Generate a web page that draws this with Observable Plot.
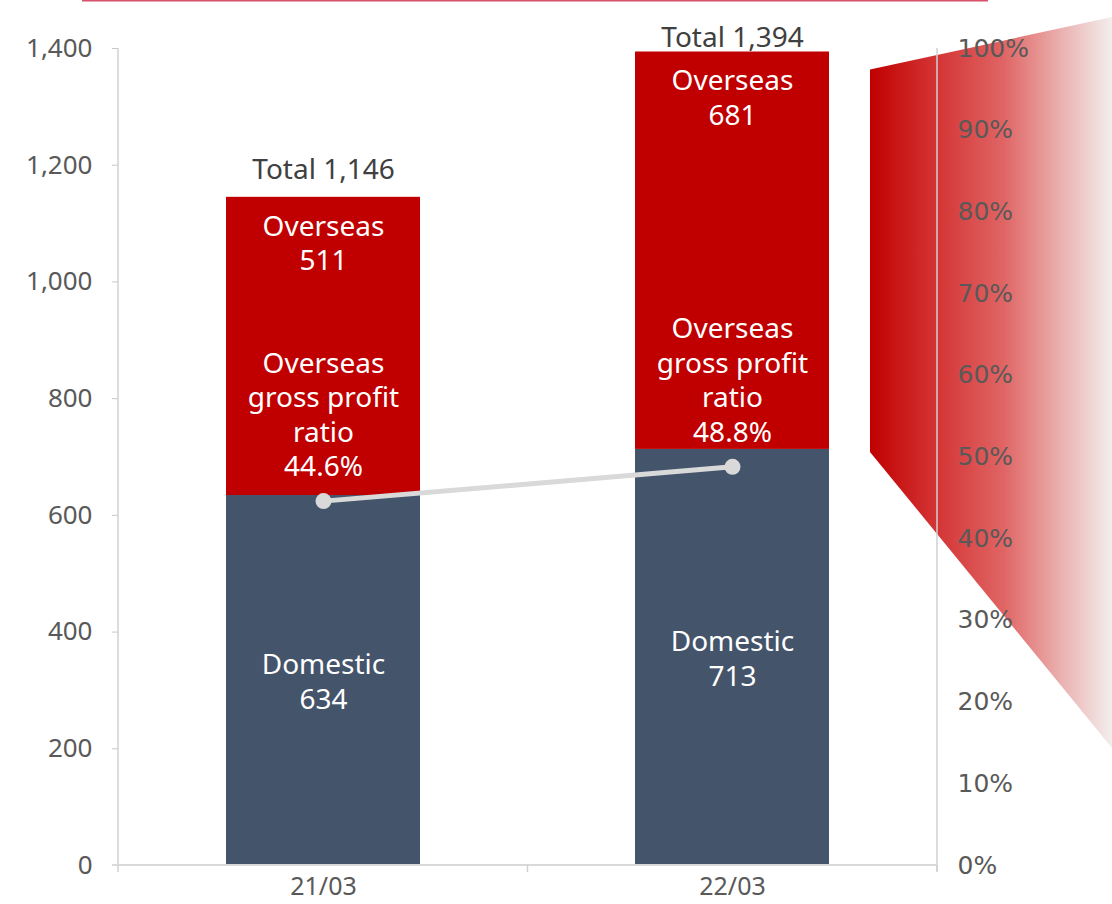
<!DOCTYPE html>
<html>
<head>
<meta charset="utf-8">
<script src="https://cdn.jsdelivr.net/npm/d3@7"></script>
<script src="https://cdn.jsdelivr.net/npm/@observablehq/plot@0.6"></script>
<style>
  html, body { margin: 0; padding: 0; background: #fff; }
  #chart { width: 1112px; height: 904px; }
</style>
</head>
<body>
<div id="chart"></div>
<script>
const periods = ["21/03", "22/03"];
const domestic = [634, 713];
const overseas = [511, 681];
const totals = [1146, 1394];
const ratios = [44.6, 48.8];
const yTicks = [0, 200, 400, 600, 800, 1000, 1200, 1400];
const pctTicks = [0, 10, 20, 30, 40, 50, 60, 70, 80, 90, 100];

const RED = "#c00000";
const NAVY = "#44546a";
const GRAY = "#595959";
const FONT = "'Noto Sans', 'Open Sans', sans-serif";

// percent mapped onto the value scale: 100% <-> 1400
const pctToY = p => p / 100 * 1400;

const rows = periods.map((p, i) => ({
  period: p, domestic: domestic[i], overseas: overseas[i],
  total: totals[i], ratio: ratios[i], idx: i
}));

const plot = Plot.plot({
  width: 1112,
  height: 904,
  marginLeft: 118,
  marginRight: 175,
  marginTop: 48,
  marginBottom: 39,
  style: { fontFamily: FONT, background: "transparent", overflow: "visible" },
  x: { domain: periods, paddingInner: 0.526, paddingOuter: 0.263, label: null },
  y: { domain: [0, 1400], label: null },
  marks: [
    Plot.axisY({ ticks: yTicks, tickFormat: d3.format(","), tickSize: 6, tickPadding: 20,
      fontSize: 26, fill: GRAY, stroke: "#c8c8c8", label: null }),
    Plot.axisY({ anchor: "right", ticks: pctTicks.map(pctToY), tickFormat: d => Math.round(d / 14) + "%",
      tickSize: 0, tickPadding: 20, fontSize: 25, fill: GRAY, label: null,
      fontFamily: "'DejaVu Sans', Verdana, sans-serif" }),
    Plot.axisX({ tickSize: 0, tickPadding: 12, fontSize: 25, fill: GRAY, label: null }),
    Plot.barY(rows, { x: "period", y1: 0, y2: "domestic", fill: NAVY }),
    Plot.barY(rows, { x: "period", y1: "domestic", y2: d => d.domestic + d.overseas, fill: RED }),
    Plot.ruleY(rows, { x: "period", y: "domestic", stroke: "#f2f2f2", strokeWidth: 2 }),
    Plot.lineY(rows, { x: "period", y: d => pctToY(d.ratio), stroke: "#d9d9d9", strokeWidth: 5 }),
    Plot.dot(rows, { x: "period", y: d => pctToY(d.ratio), r: 8, fill: "#d9d9d9" }),
    // domestic labels
    Plot.text(rows, { x: "period", y: d => d.domestic / 2, text: d => "Domestic\n" + d.domestic,
      fill: "white", fontSize: 28, lineHeight: 1.23, lineAnchor: "middle" }),
    // overseas labels
    Plot.text(rows, { x: "period", y: d => d.domestic + d.overseas, text: d => "Overseas\n" + d.overseas,
      fill: "white", fontSize: 28, lineHeight: 1.23, lineAnchor: "top", dy: 14 }),
    // ratio labels
    Plot.text(rows, { x: "period", y: d => pctToY(d.ratio),
      text: d => "Overseas\ngross profit\nratio\n" + d.ratio.toFixed(1) + "%",
      fill: "white", fontSize: 28, lineHeight: 1.23, lineAnchor: "bottom", dy: -25 }),
    // totals
    Plot.text(rows.filter(d => d.idx === 0), { x: "period", y: "total", text: d => "Total " + d3.format(",")(d.total),
      fill: "#404040", fontSize: 28, lineAnchor: "bottom", dy: -18 }),
    Plot.text(rows.filter(d => d.idx === 1), { x: "period", y: "total", text: d => "Total " + d3.format(",")(d.total),
      fill: "#404040", fontSize: 28, lineAnchor: "bottom", dy: -5 })
  ]
});

document.getElementById("chart").appendChild(plot);

// decorations: axis lines, category boundary ticks, zoom-out gradient band, top rule
const svg = d3.select(plot);
const ys = plot.scale("y");
const [x0, x1] = [118, 1112 - 175];
const yb = ys.apply(0), yt = ys.apply(1400);
const g = svg.append("g");
g.append("line").attr("x1", x0).attr("x2", x0).attr("y1", yt).attr("y2", yb).attr("stroke", "#d0d0d0").attr("stroke-width", 1.5);
g.append("line").attr("x1", x1).attr("x2", x1).attr("y1", yt).attr("y2", yb + 6).attr("stroke", "#d0d0d0").attr("stroke-width", 1.5);
g.append("line").attr("x1", x0 - 6).attr("x2", x1).attr("y1", yb).attr("y2", yb).attr("stroke", "#d9d9d9").attr("stroke-width", 2);
[x0, (x0 + x1) / 2, x1].forEach(x => {
  g.append("line").attr("x1", x).attr("x2", x).attr("y1", yb).attr("y2", yb + 7).attr("stroke", "#d0d0d0").attr("stroke-width", 1.5);
});

// gradient band behind everything
const defs = svg.insert("defs", ":first-child");
const grad = defs.append("linearGradient").attr("id", "zoomGrad").attr("x1", "0").attr("x2", "1").attr("y1", "0").attr("y2", "0");
[[0, "#c00000"], [0.25, "#d33030"], [0.55, "#e06464"], [0.8, "#eab4b2"], [1, "#f3eeee"]].forEach(([o, c]) =>
  grad.append("stop").attr("offset", o).attr("stop-color", c));
const topL = ys.apply(1394) + 18, botL = ys.apply(713) + 3;
const pts = [[870, topL], [1112, 17], [1112, 748], [870, botL]];
svg.insert("polygon", "defs + *").attr("points", pts.map(p => p.join(",")).join(" ")).attr("fill", "url(#zoomGrad)");
svg.append("line").attr("x1", 82).attr("x2", 988).attr("y1", 0.5).attr("y2", 0.5).attr("stroke", "#d9506a").attr("stroke-width", 2);
</script>
</body>
</html>
